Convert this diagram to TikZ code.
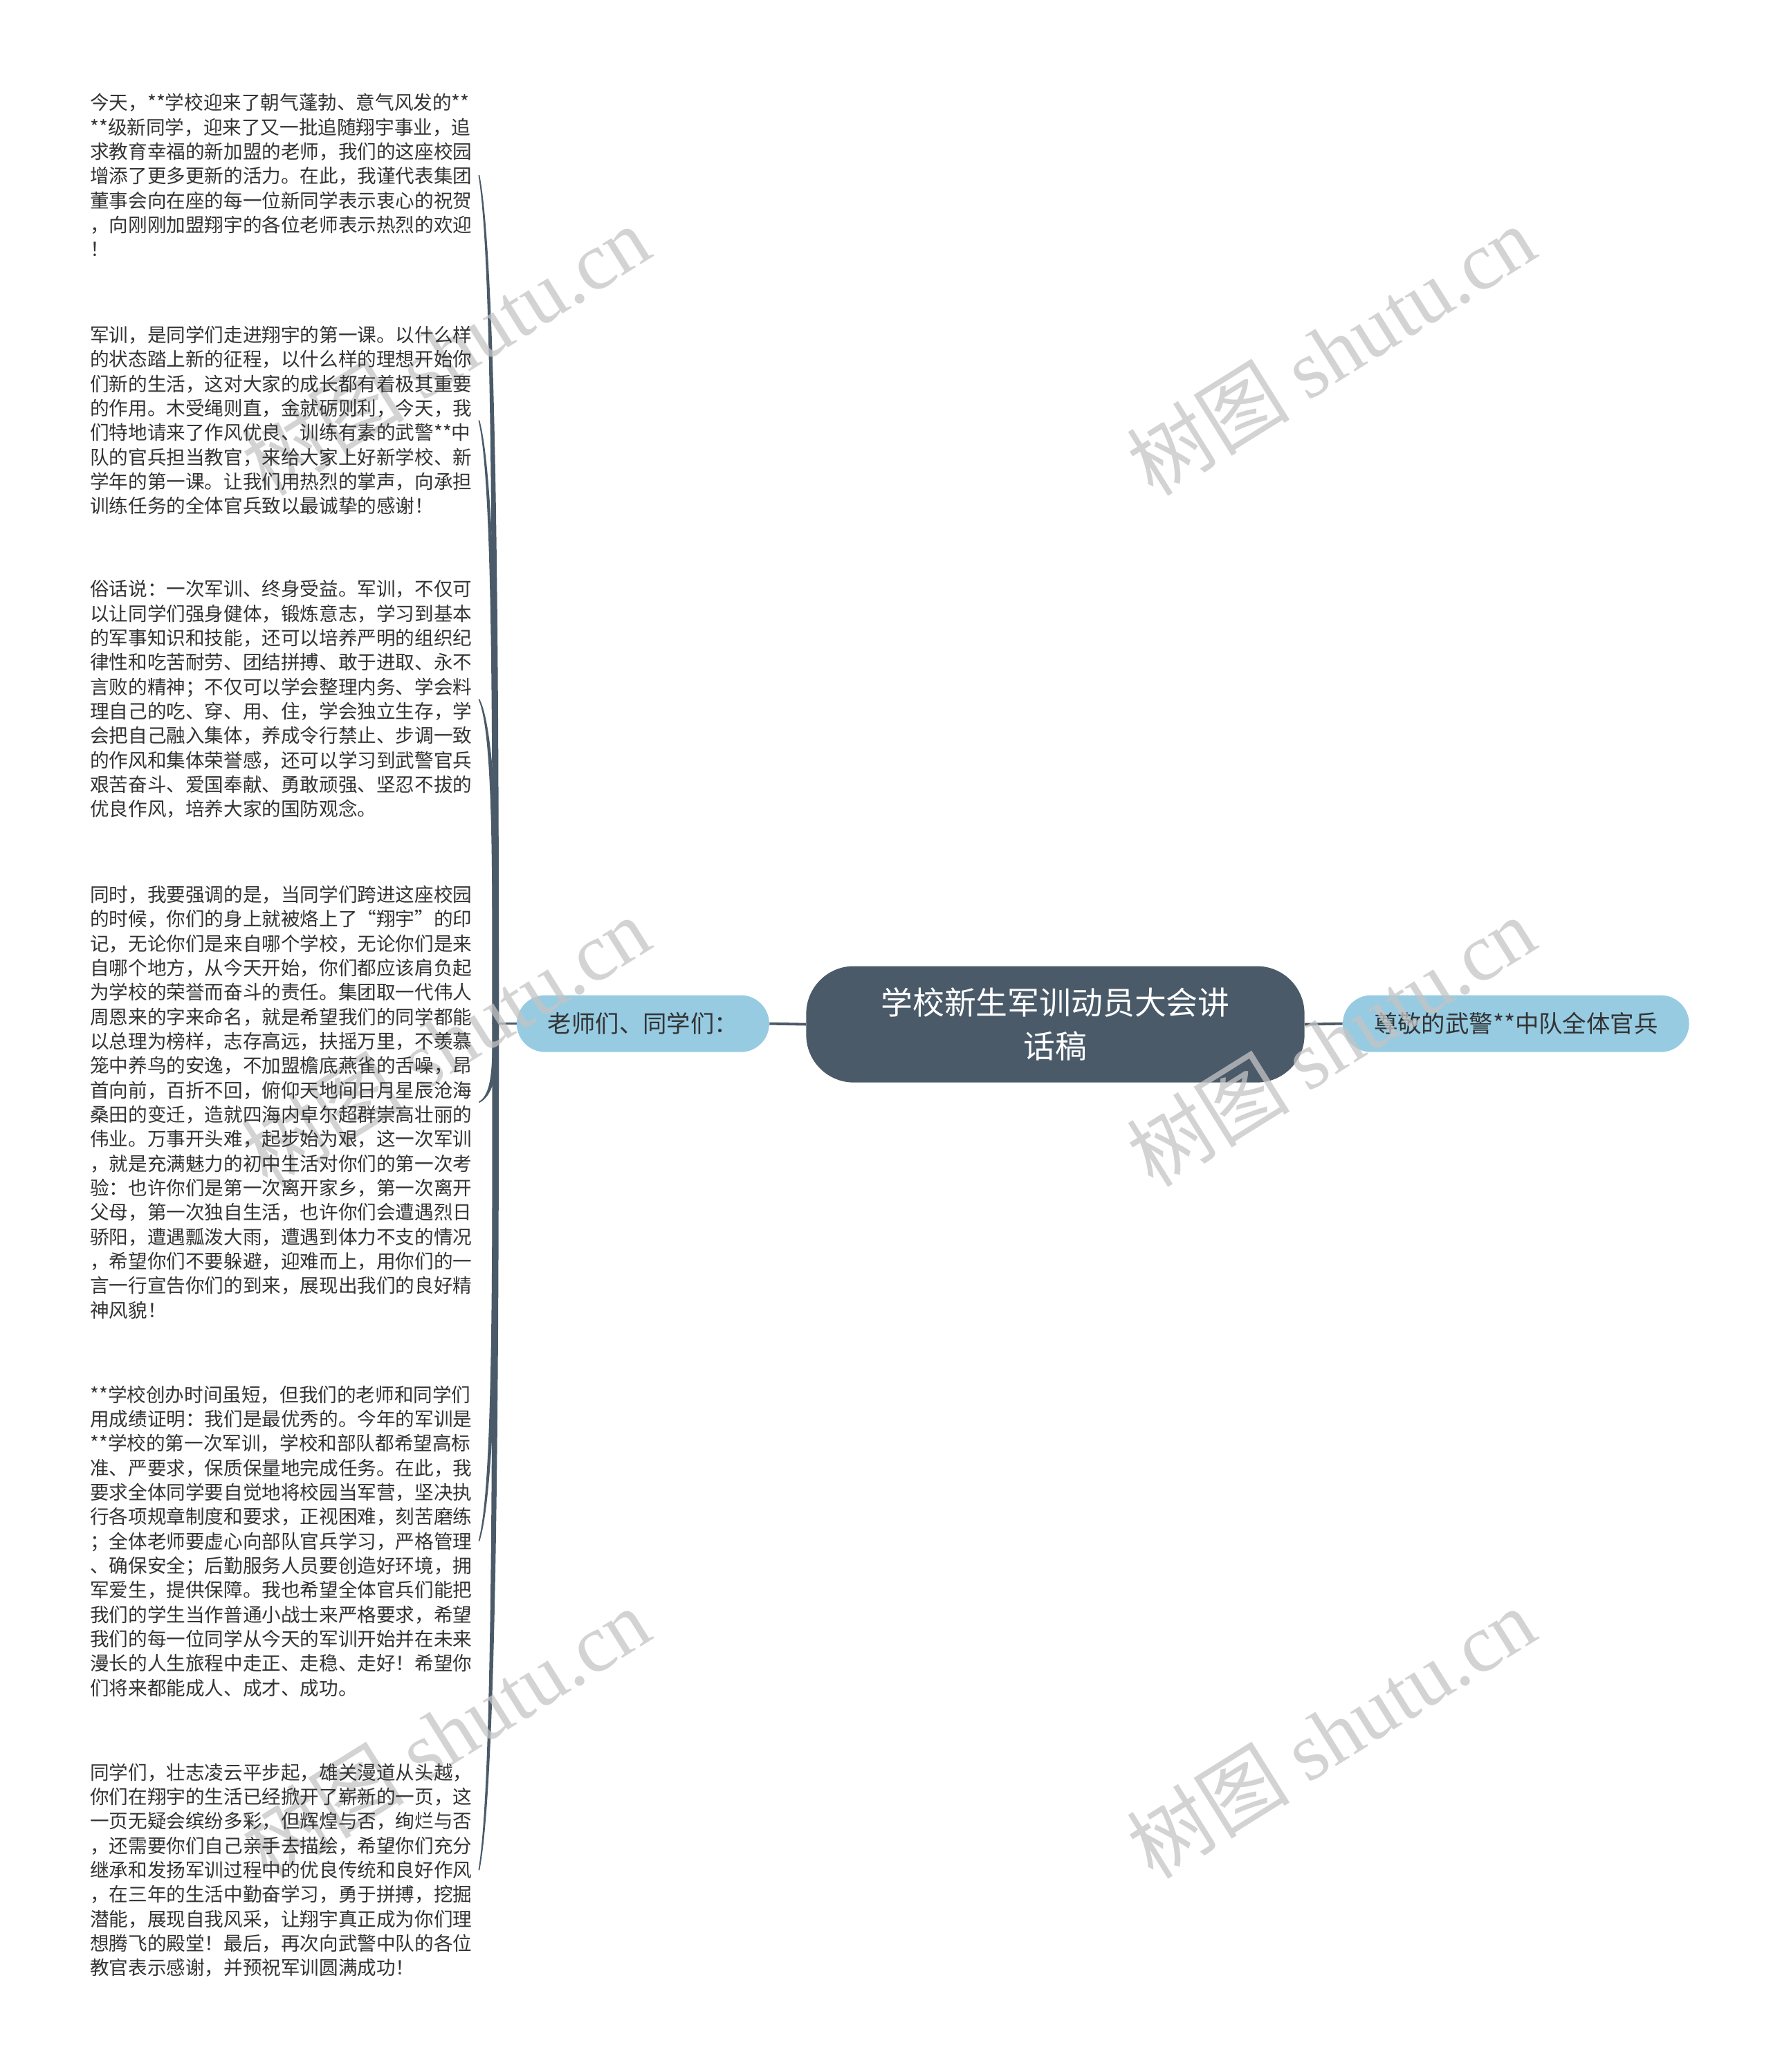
\documentclass[tikz,border=0pt]{standalone}
\usepackage{fontspec}
\setmainfont{Noto Sans CJK SC}
\newfontfamily\wmlatin{Liberation Serif}
\usetikzlibrary{positioning}
\definecolor{slate}{HTML}{4A5A69}
\definecolor{skyblue}{HTML}{96CBE2}
\definecolor{inkgray}{HTML}{333333}
\definecolor{wmgray}{HTML}{C4C4C4}
\pgfdeclarelayer{marks}
\pgfdeclarelayer{front}
\pgfsetlayers{main,marks,front}
\tikzset{
  mm schemes/.style = {
    x = 1pt, y = -1pt,
    % центральная тема
    root/.style  = {fill=slate, text=white, rounded corners=36pt,
      minimum width=377pt, minimum height=88pt, align=center,
      inner sep=0pt, font=\fontsize{24}{33}\selectfont},
    % ветви
    topic/.style = {fill=skyblue, text=inkgray, rounded corners=21.5pt,
      minimum height=43pt, inner sep=0pt, font=\fontsize{18}{22}\selectfont},
    para/.style  = {anchor=west, inner sep=0pt, text width=289pt,
      align=left, text=inkgray, font=\fontsize{14.45}{18.5}\selectfont},
    % линии
    link line/.style = {draw=slate, line width=2pt},
    leaf line/.style = {draw=slate, line width=0.9pt, line cap=round, fill=slate},
    mark text/.style = {text=wmgray, opacity=0.75, rotate=32,
      font=\fontsize{62}{62}\selectfont},
  }
}
\begin{document}
\begin{tikzpicture}[mm schemes]
  \useasboundingbox (0,0) rectangle (1340,1567.7);

  \begin{pgfonlayer}{front}
  \node[para] (p1) at (68,132.5) {今天，**学校迎来了朝气蓬勃、意气风发的**\\{}
    **级新同学，迎来了又一批追随翔宇事业，追\\
    求教育幸福的新加盟的老师，我们的这座校园\\
    增添了更多更新的活力。在此，我谨代表集团\\
    董事会向在座的每一位新同学表示衷心的祝贺\\
    ，向刚刚加盟翔宇的各位老师表示热烈的欢迎\\
    ！};
  \node[para] (p2) at (68,318) {军训，是同学们走进翔宇的第一课。以什么样\\
    的状态踏上新的征程，以什么样的理想开始你\\
    们新的生活，这对大家的成长都有着极其重要\\
    的作用。木受绳则直，金就砺则利，今天，我\\
    们特地请来了作风优良、训练有素的武警**中\\
    队的官兵担当教官，来给大家上好新学校、新\\
    学年的第一课。让我们用热烈的掌声，向承担\\
    训练任务的全体官兵致以最诚挚的感谢！};
  \node[para] (p3) at (68,529) {俗话说：一次军训、终身受益。军训，不仅可\\
    以让同学们强身健体，锻炼意志，学习到基本\\
    的军事知识和技能，还可以培养严明的组织纪\\
    律性和吃苦耐劳、团结拼搏、敢于进取、永不\\
    言败的精神；不仅可以学会整理内务、学会料\\
    理自己的吃、穿、用、住，学会独立生存，学\\
    会把自己融入集体，养成令行禁止、步调一致\\
    的作风和集体荣誉感，还可以学习到武警官兵\\
    艰苦奋斗、爱国奉献、勇敢顽强、坚忍不拔的\\
    优良作风，培养大家的国防观念。};
  \node[para] (p4) at (68,834) {同时，我要强调的是，当同学们跨进这座校园\\
    的时候，你们的身上就被烙上了“翔宇”的印\\
    记，无论你们是来自哪个学校，无论你们是来\\
    自哪个地方，从今天开始，你们都应该肩负起\\
    为学校的荣誉而奋斗的责任。集团取一代伟人\\
    周恩来的字来命名，就是希望我们的同学都能\\
    以总理为榜样，志存高远，扶摇万里，不羡慕\\
    笼中养鸟的安逸，不加盟檐底燕雀的舌噪，昂\\
    首向前，百折不回，俯仰天地间日月星辰沧海\\
    桑田的变迁，造就四海内卓尔超群崇高壮丽的\\
    伟业。万事开头难，起步始为艰，这一次军训\\
    ，就是充满魅力的初中生活对你们的第一次考\\
    验：也许你们是第一次离开家乡，第一次离开\\
    父母，第一次独自生活，也许你们会遭遇烈日\\
    骄阳，遭遇瓢泼大雨，遭遇到体力不支的情况\\
    ，希望你们不要躲避，迎难而上，用你们的一\\
    言一行宣告你们的到来，展现出我们的良好精\\
    神风貌！};
  \node[para] (p5) at (68,1166) {**学校创办时间虽短，但我们的老师和同学们\\
    用成绩证明：我们是最优秀的。今年的军训是\\{}
    **学校的第一次军训，学校和部队都希望高标\\
    准、严要求，保质保量地完成任务。在此，我\\
    要求全体同学要自觉地将校园当军营，坚决执\\
    行各项规章制度和要求，正视困难，刻苦磨练\\
    ；全体老师要虚心向部队官兵学习，严格管理\\
    、确保安全；后勤服务人员要创造好环境，拥\\
    军爱生，提供保障。我也希望全体官兵们能把\\
    我们的学生当作普通小战士来严格要求，希望\\
    我们的每一位同学从今天的军训开始并在未来\\
    漫长的人生旅程中走正、走稳、走好！希望你\\
    们将来都能成人、成才、成功。};
  \node[para] (p6) at (68,1415) {同学们，壮志凌云平步起，雄关漫道从头越，\\
    你们在翔宇的生活已经掀开了崭新的一页，这\\
    一页无疑会缤纷多彩，但辉煌与否，绚烂与否\\
    ，还需要你们自己亲手去描绘，希望你们充分\\
    继承和发扬军训过程中的优良传统和良好作风\\
    ，在三年的生活中勤奋学习，勇于拼搏，挖掘\\
    潜能，展现自我风采，让翔宇真正成为你们理\\
    想腾飞的殿堂！最后，再次向武警中队的各位\\
    教官表示感谢，并预祝军训圆满成功！};
  \end{pgfonlayer}

  \node[root] (root) at (798.5,775) {学校新生军训动员大会讲\\话稿};
  \node[topic, minimum width=191pt] (hello) at (486.5,774.5) {老师们、同学们：};
  \node[topic, minimum width=262pt] (guard) at (1147,774.5) {尊敬的武警**中队全体官兵};

  \draw[link line] (root.west) -- (hello.east);
  \draw[link line] (root.east) -- (guard.west);

  \coordinate (jn) at (375,774.5);
  \draw[link line, line width=1.6pt] (hello.west) -- (jn);
  % ветви к абзацам, сужаются к концу
  \foreach \n/\yc in {p1/132.5, p2/318, p3/529, p4/834, p5/1166, p6/1415} {
    \pgfmathsetmacro\ya{774.5+0.5*(\yc-774.5)}
    \pgfmathsetmacro\yb{\yc-0.1*(\yc-774.5)}
    \draw[leaf line] ([xshift=5pt]\n.east) .. controls (373.3,\yb) and (373,\ya)
      .. ([xshift=-2pt]jn) -- ([xshift=2pt]jn) .. controls (377,\ya)
      and (374.7,\yb) .. ([xshift=5pt]\n.east) -- cycle;
  }

  % водяные знаки
  \begin{pgfonlayer}{marks}
  \foreach \wx in {337,1007}
    \foreach \wy in {265,788,1311}
      \node[mark text] (wm-\wx-\wy) at (\wx,\wy) {树图 {\wmlatin shutu.cn}};
  \end{pgfonlayer}
\end{tikzpicture}
\end{document}
